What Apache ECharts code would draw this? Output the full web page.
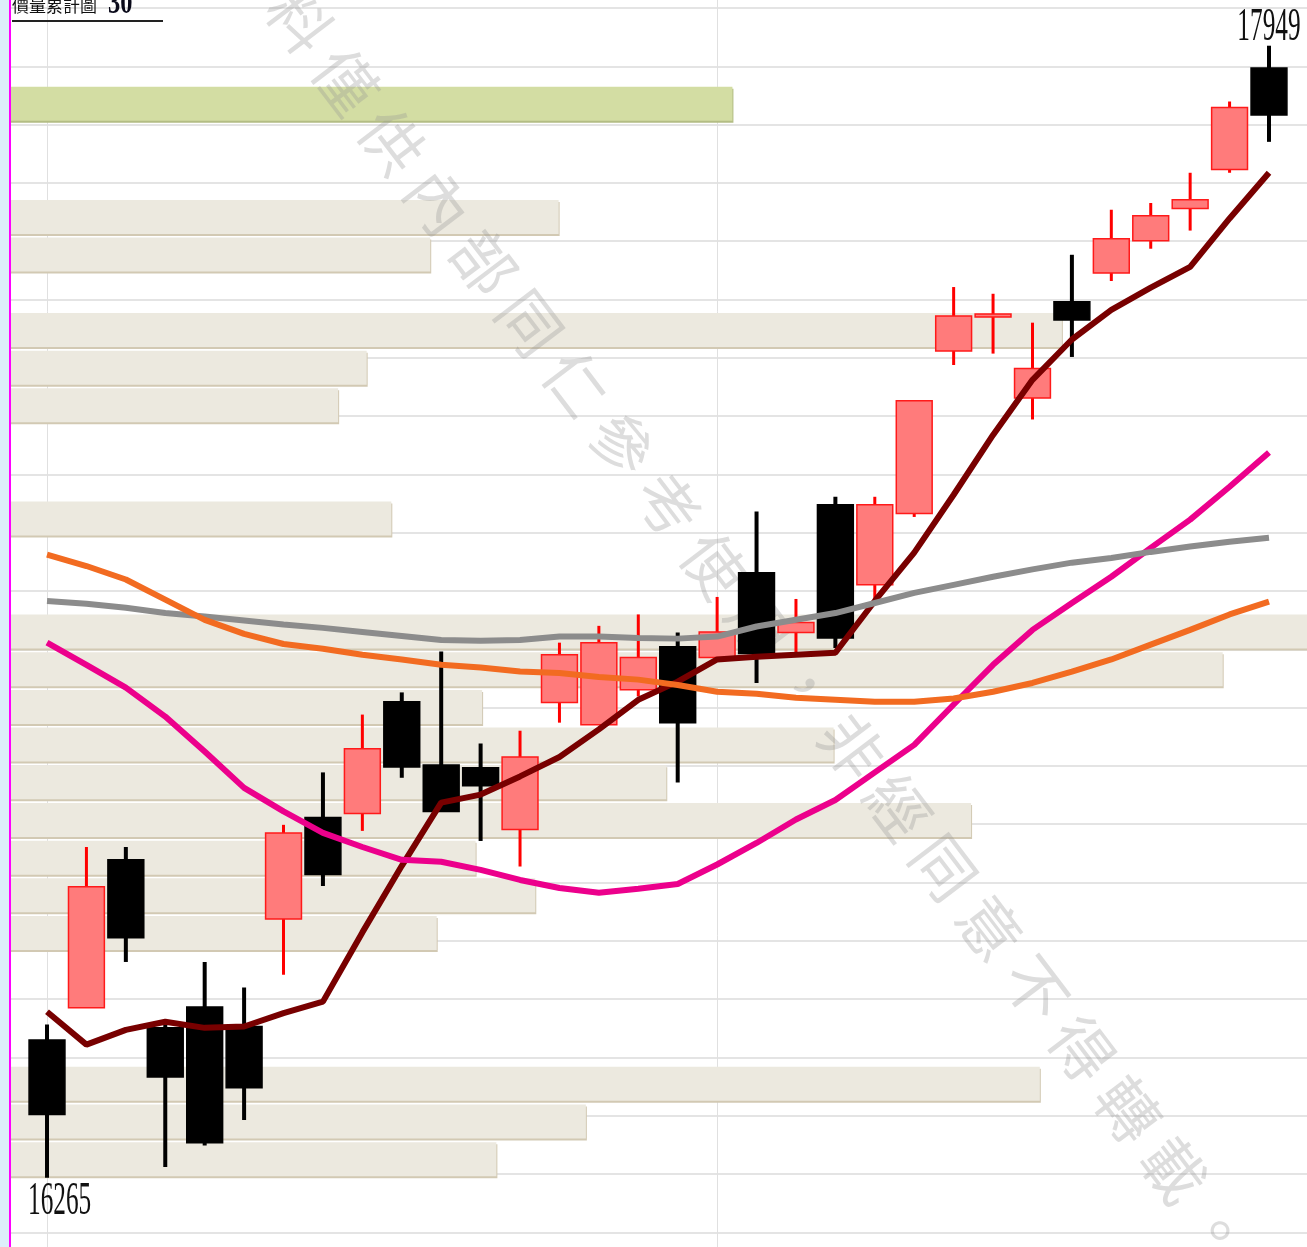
<!DOCTYPE html>
<html>
<head>
<meta charset="utf-8">
<title>價量累計圖 30</title>
<script src="https://cdn.jsdelivr.net/npm/echarts@6/dist/echarts.min.js"></script>
<style>
  html, body { margin: 0; padding: 0; background: #fff; }
  #chart { width: 1307px; height: 1247px; }
</style>
</head>
<body>
<div id="chart"></div>
<script>
// 30 trading days (index only, dates not shown on the chart)
const days = ['1', '2', '3', '4', '5', '6', '7', '8', '9', '10', '11', '12', '13', '14', '15', '16',
  '17', '18', '19', '20', '21', '22', '23', '24', '25', '26', '27', '28', '29', '30', '31', '32']

const opens = [16470, 16518, 16738, 16488, 16519, 16490, 16650, 16801, 16807, 16973, 16879, 16875, 16783, 16972, 16939, 16991,
  17055, 17039, 17165, 17076, 17266, 17147, 17253, 17495, 17546, 17425, 17568, 17611, 17659, 17707, 17765, 17916]
const closes = [16359, 16698, 16622, 16415, 16317, 16399, 16778, 16716, 16903, 16876, 16810, 16848, 16891, 17043, 17061, 17039,
  16942, 17077, 17045, 17091, 17068, 17266, 17421, 17547, 17550, 17469, 17541, 17662, 17696, 17720, 17857, 17846]
const lows = [16265, 16518, 16586, 16281, 16313, 16351, 16567, 16699, 16781, 16860, 16810, 16766, 16728, 16942, 16939, 16981,
  16853, 17039, 17001, 17046, 17053, 17125, 17248, 17474, 17491, 17393, 17486, 17599, 17647, 17674, 17760, 17806]
const highs = [16493, 16757, 16757, 16494, 16586, 16548, 16790, 16868, 16954, 16987, 17048, 16911, 16930, 17061, 17086, 17103,
  17076, 17129, 17256, 17126, 17278, 17278, 17421, 17590, 17580, 17537, 17638, 17705, 17715, 17760, 17866, 17949]

const maShort = [16512, 16463, 16485, 16497, 16488, 16490, 16510, 16527, 16630, 16729, 16823, 16835, 16862, 16891, 16932, 16976,
  17003, 17036, 17040, 17043, 17046, 17123, 17195, 17281, 17370, 17452, 17512, 17556, 17589, 17620, 17692, 17760]
const maMid = [17061, 17028, 16994, 16951, 16899, 16845, 16810, 16778, 16757, 16738, 16735, 16723, 16708, 16696, 16689, 16695,
  16702, 16731, 16763, 16798, 16827, 16868, 16909, 16969, 17028, 17080, 17120, 17159, 17202, 17244, 17293, 17344]
const maLong = [17123, 17119, 17113, 17105, 17100, 17094, 17088, 17083, 17077, 17071, 17065, 17064, 17065, 17070, 17070, 17068,
  17067, 17070, 17085, 17095, 17105, 17120, 17135, 17147, 17159, 17170, 17180, 17187, 17196, 17204, 17211, 17217]
const maQuarter = [17192, 17175, 17155, 17125, 17095, 17074, 17059, 17052, 17043, 17036, 17028, 17024, 17018, 17016, 17010, 17006,
  16998, 16988, 16985, 16979, 16976, 16973, 16973, 16978, 16988, 17001, 17018, 17036, 17058, 17080, 17103, 17122]

// accumulated volume by price, bins listed from the lowest price up (relative volume, max = 100)
const priceBins = [16265, 16321, 16377, 16433, 16489, 16545, 16601, 16657, 16714, 16770, 16826, 16882, 16938, 16994, 17050,
  17106, 17162, 17218, 17274, 17331, 17387, 17443, 17499, 17555, 17611, 17667, 17723, 17779, 17835]
const binVolumes = [37.5, 44.4, 79.4, 0, 0, 0, 32.9, 40.5, 35.9, 74.1, 50.6, 63.5, 36.4, 93.5, 100, 0,
  0, 29.4, 0, 0, 25.3, 27.5, 81.1, 0, 32.4, 42.3, 0, 0, 55.7]

const monthStarts = [0, 17]
const priceMin = 16162
const priceMax = 18017
const watermark = '資料僅供內部同仁參考使用，非經同意不得轉載。'

const lastClose = closes[closes.length - 1]

function isLastBin(i) {
  return lastClose >= priceBins[i] && (i === priceBins.length - 1 || lastClose < priceBins[i + 1])
}

function renderCandle(params, api) {
  const i = api.value(0)
  const o = api.value(1)
  const c = api.value(2)
  const [x, yO] = api.coord([i, o])
  const yC = api.coord([i, c])[1]
  const yL = api.coord([i, api.value(3)])[1]
  const yH = api.coord([i, api.value(4)])[1]
  const w = api.size([1, 0])[0] * 0.91
  const up = c >= o
  const top = Math.min(yO, yC)
  const h = Math.max(Math.abs(yO - yC), 3)
  return {
    type: 'group',
    children: [
      {
        type: 'line',
        shape: { x1: x, y1: yH, x2: x, y2: yL },
        style: { stroke: up ? '#ff0000' : '#000', lineWidth: up ? 3 : 4 },
      },
      {
        type: 'rect',
        shape: { x: x - w / 2, y: top, width: w, height: h },
        style: { fill: up ? '#ff7b7b' : '#000', stroke: up ? '#ff1a1a' : '#000', lineWidth: 1.5 },
      },
    ],
  }
}

function maSeries(name, data, color) {
  return {
    name,
    type: 'line',
    xAxisIndex: 0,
    yAxisIndex: 0,
    data,
    symbol: 'none',
    z: 4,
    silent: true,
    lineStyle: { color, width: 6 },
  }
}

const chart = echarts.init(document.getElementById('chart'))

chart.setOption({
  animation: false,
  backgroundColor: '#fff',
  grid: [
    { left: 27.3, width: 1261.4, top: 0, height: 1247 },
    { left: 10, right: 0, top: 85, height: 1093 },
    { left: 10, right: 0, top: 8, height: 1224.3 },
  ],
  xAxis: [
    { gridIndex: 0, type: 'category', data: days, show: false },
    { gridIndex: 1, type: 'value', min: 0, max: 100, show: false },
    { gridIndex: 2, type: 'value', min: 0, max: 1, show: false },
  ],
  yAxis: [
    { gridIndex: 0, type: 'value', min: priceMin, max: priceMax, show: false },
    { gridIndex: 1, type: 'category', data: priceBins, show: false },
    {
      gridIndex: 2,
      type: 'value',
      min: 0,
      max: 21,
      interval: 1,
      axisLine: { show: false },
      axisTick: { show: false },
      axisLabel: { show: false },
      splitLine: { lineStyle: { color: '#e4e4e4', width: 2 } },
    },
  ],
  series: [
    {
      name: 'month',
      type: 'line',
      xAxisIndex: 0,
      yAxisIndex: 0,
      data: [],
      z: 0,
      markLine: {
        z: 0,
        silent: true,
        symbol: 'none',
        label: { show: false },
        lineStyle: { color: '#e0e0e0', width: 1, type: 'solid' },
        data: monthStarts.map((i) => ({ xAxis: i })),
      },
    },
    {
      name: 'volume',
      type: 'bar',
      xAxisIndex: 1,
      yAxisIndex: 1,
      barWidth: 34,
      z: 1,
      silent: true,
      data: binVolumes.map((v, i) => ({
        value: v,
        itemStyle: isLastBin(i)
          ? { color: '#d3dda3', shadowColor: '#b3bd84', shadowOffsetX: 1, shadowOffsetY: 2, shadowBlur: 0 }
          : { color: '#ece9df', shadowColor: '#d2c9b3', shadowOffsetX: 1, shadowOffsetY: 2, shadowBlur: 0 },
      })),
    },
    {
      name: 'k',
      type: 'custom',
      xAxisIndex: 0,
      yAxisIndex: 0,
      z: 3,
      silent: true,
      renderItem: renderCandle,
      encode: { x: 0, y: [1, 2, 3, 4] },
      data: opens.map((o, i) => [i, o, closes[i], lows[i], highs[i]]),
    },
    maSeries('MA5', maShort, '#780000'),
    maSeries('MA20', maMid, '#ec008c'),
    maSeries('MA60', maLong, '#8c8c8c'),
    maSeries('MA120', maQuarter, '#f26b21'),
  ],
})

// high / low labels and frame decorations
const hiIdx = highs.indexOf(Math.max(...highs))
const loIdx = lows.indexOf(Math.min(...lows))
const hiPt = chart.convertToPixel({ gridIndex: 0 }, [hiIdx, highs[hiIdx]])
const loPt = chart.convertToPixel({ gridIndex: 0 }, [loIdx, lows[loIdx]])

const wmChars = Array.from(watermark)

chart.setOption({
  graphic: [
    {
      type: 'group',
      x: 254,
      y: -40,
      rotation: (-52.75 * Math.PI) / 180,
      z: 2,
      silent: true,
      children: wmChars.map((ch, i) => ({
        type: 'text',
        x: i * 76,
        y: 0,
        z: 2,
        style: {
          text: ch,
          font: '62px "Noto Sans CJK TC"',
          fill: 'rgba(150,150,150,0.32)',
          align: 'center',
          verticalAlign: 'middle',
        },
      })),
    },
    { type: 'rect', z: 10, shape: { x: 0, y: 0, width: 9, height: 1247 }, style: { fill: '#ddeffa' } },
    { type: 'line', z: 10, shape: { x1: 10, y1: 0, x2: 10, y2: 1247 }, style: { stroke: '#ff00ff', lineWidth: 2 } },
    {
      type: 'text',
      z: 10,
      x: 12,
      y: 6,
      style: { text: '價量累計圖', font: '17px "Noto Sans CJK TC"', fill: '#111', verticalAlign: 'middle' },
    },
    {
      type: 'text',
      z: 10,
      x: 108,
      y: 4,
      scaleX: 0.72,
      style: { text: '30', font: 'bold 34px "Liberation Serif"', fill: '#0a0a1a', verticalAlign: 'middle' },
    },
    { type: 'line', z: 10, shape: { x1: 12, y1: 21, x2: 163, y2: 21 }, style: { stroke: '#222', lineWidth: 2 } },
    {
      type: 'text',
      z: 10,
      x: hiPt[0],
      y: hiPt[1] - 18,
      scaleX: 0.55,
      style: {
        text: String(highs[hiIdx]),
        font: '46px "Liberation Serif"',
        fill: '#111',
        align: 'center',
        verticalAlign: 'middle',
      },
    },
    {
      type: 'text',
      z: 10,
      x: loPt[0] - 19,
      y: loPt[1] + 24,
      scaleX: 0.55,
      style: {
        text: String(lows[loIdx]),
        font: '46px "Liberation Serif"',
        fill: '#111',
        align: 'left',
        verticalAlign: 'middle',
      },
    },
  ],
})
</script>
</body>
</html>
